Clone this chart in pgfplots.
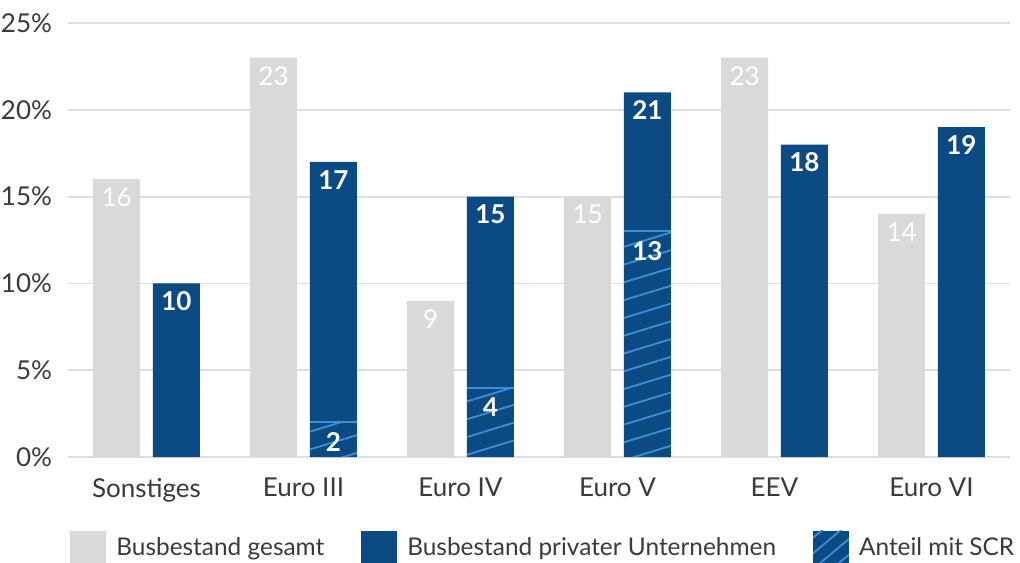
\documentclass[border=0pt]{standalone}
\usepackage{fontspec}
\setmainfont{Lato}
\usepackage{pgfplots}
\pgfplotsset{compat=1.18}
\usetikzlibrary{patterns.meta}
\definecolor{greybar}{HTML}{D9D9DB}
\definecolor{bluebar}{HTML}{0B4A82}
\definecolor{hatch}{HTML}{3C90D6}
\definecolor{gridc}{HTML}{DEDEDE}
\definecolor{txt}{HTML}{3A3A3A}
\begin{document}
\begin{tikzpicture}
\path[use as bounding box] (-34pt,-52.5pt) rectangle (476pt,228.5pt);
\begin{axis}[
  at={(0,0)}, anchor=south west,
  scale only axis, width=471pt, height=217pt,
  xmin=-0.5, xmax=5.5, ymin=0, ymax=25,
  /pgf/number format/assume math mode=true,
  xtick={0,1,2,3,4,5},
  xticklabels={Sonstiges,Euro III,Euro IV,Euro V,EEV,Euro VI},
  ytick={0,5,10,15,20,25},
  yticklabels={0\%,5\%,10\%,15\%,20\%,25\%},
  ymajorgrids, grid style={gridc, line width=0.9pt},
  axis line style={draw=none}, major tick length=0pt,
  tick label style={font=\fontsize{13}{15}\selectfont, text=txt},
  yticklabel style={xshift=-4.5pt},
  xticklabel style={yshift=-7pt},
  legend style={at={(0,0)}, anchor=west, yshift=-45.5pt, xshift=1pt,
    draw=none, fill=none, legend columns=3, inner sep=0pt,
    font=\fontsize{12.2}{14}\selectfont, text=txt,
    /tikz/every even column/.append style={column sep=16.5pt},
    /tikz/every odd column/.append style={column sep=3pt},
    cells={anchor=west}},
  legend image code/.code={\fill[#1] (0pt,-8.75pt) rectangle (18pt,8.75pt);},
]
\addplot[ybar, bar width=0.3, bar shift=0pt, fill=greybar, draw=none,
  nodes near coords, nodes near coords style={text=white, font=\fontsize{13}{15}\selectfont, anchor=center, yshift=-9pt}]
  coordinates {(-0.19,16) (0.81,23) (1.81,9) (2.81,15) (3.81,23) (4.81,14)};
\addlegendentry{Busbestand gesamt}
\addplot[ybar, bar width=0.3, bar shift=0pt, fill=bluebar, draw=none,
  nodes near coords, nodes near coords style={text=white, font=\bfseries\fontsize{13}{15}\selectfont, anchor=center, yshift=-9pt}]
  coordinates {(0.19,10) (1.19,17) (2.19,15) (3.19,21) (4.19,18) (5.19,19)};
\addlegendentry{Busbestand privater Unternehmen}
\addplot[ybar, bar width=0.3, bar shift=0pt, draw=none,
  pattern={Lines[angle=17,distance=8.5pt,line width=0.9pt]}, pattern color=hatch,
  legend image code/.code={\fill[bluebar] (0pt,-8.75pt) rectangle (18pt,8.75pt);
     \fill[pattern={Lines[angle=40,distance=6pt,line width=0.9pt]}, pattern color=hatch] (0pt,-8.75pt) rectangle (18pt,8.75pt);},
  nodes near coords, nodes near coords style={text=white, font=\bfseries\fontsize{13}{15}\selectfont, anchor=center, yshift=-10pt}]
  coordinates {(1.19,2) (2.19,4) (3.19,13)};
\addlegendentry{Anteil mit SCR}
\addplot[only marks, mark=-, mark size=11.7pt, mark options={draw=hatch, line width=1pt}, forget plot]
  coordinates {(1.19,2) (2.19,4) (3.19,13)};
\end{axis}
\end{tikzpicture}
\end{document}
